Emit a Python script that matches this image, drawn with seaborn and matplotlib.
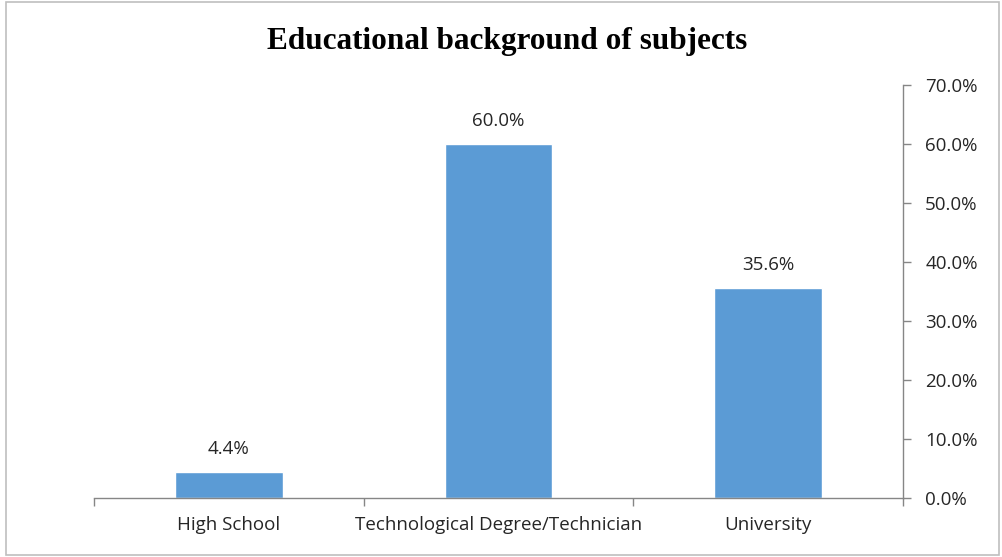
import matplotlib
matplotlib.use("Agg")
import matplotlib.pyplot as plt
import seaborn as sns
import pandas as pd
from matplotlib.ticker import PercentFormatter, FixedLocator
from matplotlib.patches import Rectangle

categories = ["High School", "Technological Degree/Technician", "University"]
shares = [4.4, 60.0, 35.6]
y_ticks = [0, 10, 20, 30, 40, 50, 60, 70]

df = pd.DataFrame({"level": categories, "share": shares})

sns.set_style("white")
plt.rcParams["font.family"] = ["Open Sans", "DejaVu Sans"]

fig = plt.figure(figsize=(10.03, 5.57), dpi=100)
ax = fig.add_axes([0.0937, 0.106, 0.8066, 0.741])

sns.barplot(data=df, x="level", y="share", color="#5B9BD5", width=0.4,
            saturation=1, ax=ax)

# value labels above bars
for i, v in enumerate(shares):
    ax.text(i, v + 2.4, f"{v:.1f}%", ha="center", va="bottom",
            fontsize=13.5, color="#262626")

ax.set_ylim(0, 70)
ax.set_xlim(-0.5, 2.5)
ax.yaxis.tick_right()
ax.set_yticks(y_ticks)
ax.yaxis.set_major_formatter(PercentFormatter(decimals=1))
ax.xaxis.set_minor_locator(FixedLocator([-0.5, 0.5, 1.5, 2.5]))
ax.tick_params(axis="x", which="major", length=0, pad=13, labelsize=13.5,
               labelcolor="#262626")
ax.tick_params(axis="x", which="minor", length=6, width=1, color="#868686",
               direction="out", bottom=True)
ax.tick_params(axis="y", length=6, width=1, color="#868686", direction="out",
               right=True, left=False, labelsize=13.5, labelcolor="#262626", pad=10)
ax.set_xlabel("")
ax.set_ylabel("")
for side in ["top", "left"]:
    ax.spines[side].set_visible(False)
for side in ["right", "bottom"]:
    ax.spines[side].set_color("#868686")
    ax.spines[side].set_linewidth(1)

fig.text(0.506, 0.925, "Educational background of subjects", ha="center",
         va="center", fontsize=22.5, fontweight="bold",
         family=["Liberation Serif", "DejaVu Serif"], color="black")

fig.patches.append(Rectangle((0.006, 0.003), 0.99, 0.994, transform=fig.transFigure,
                             fill=False, edgecolor="#BFBFBF", linewidth=1.2))

fig.savefig("out.png", dpi=100)
